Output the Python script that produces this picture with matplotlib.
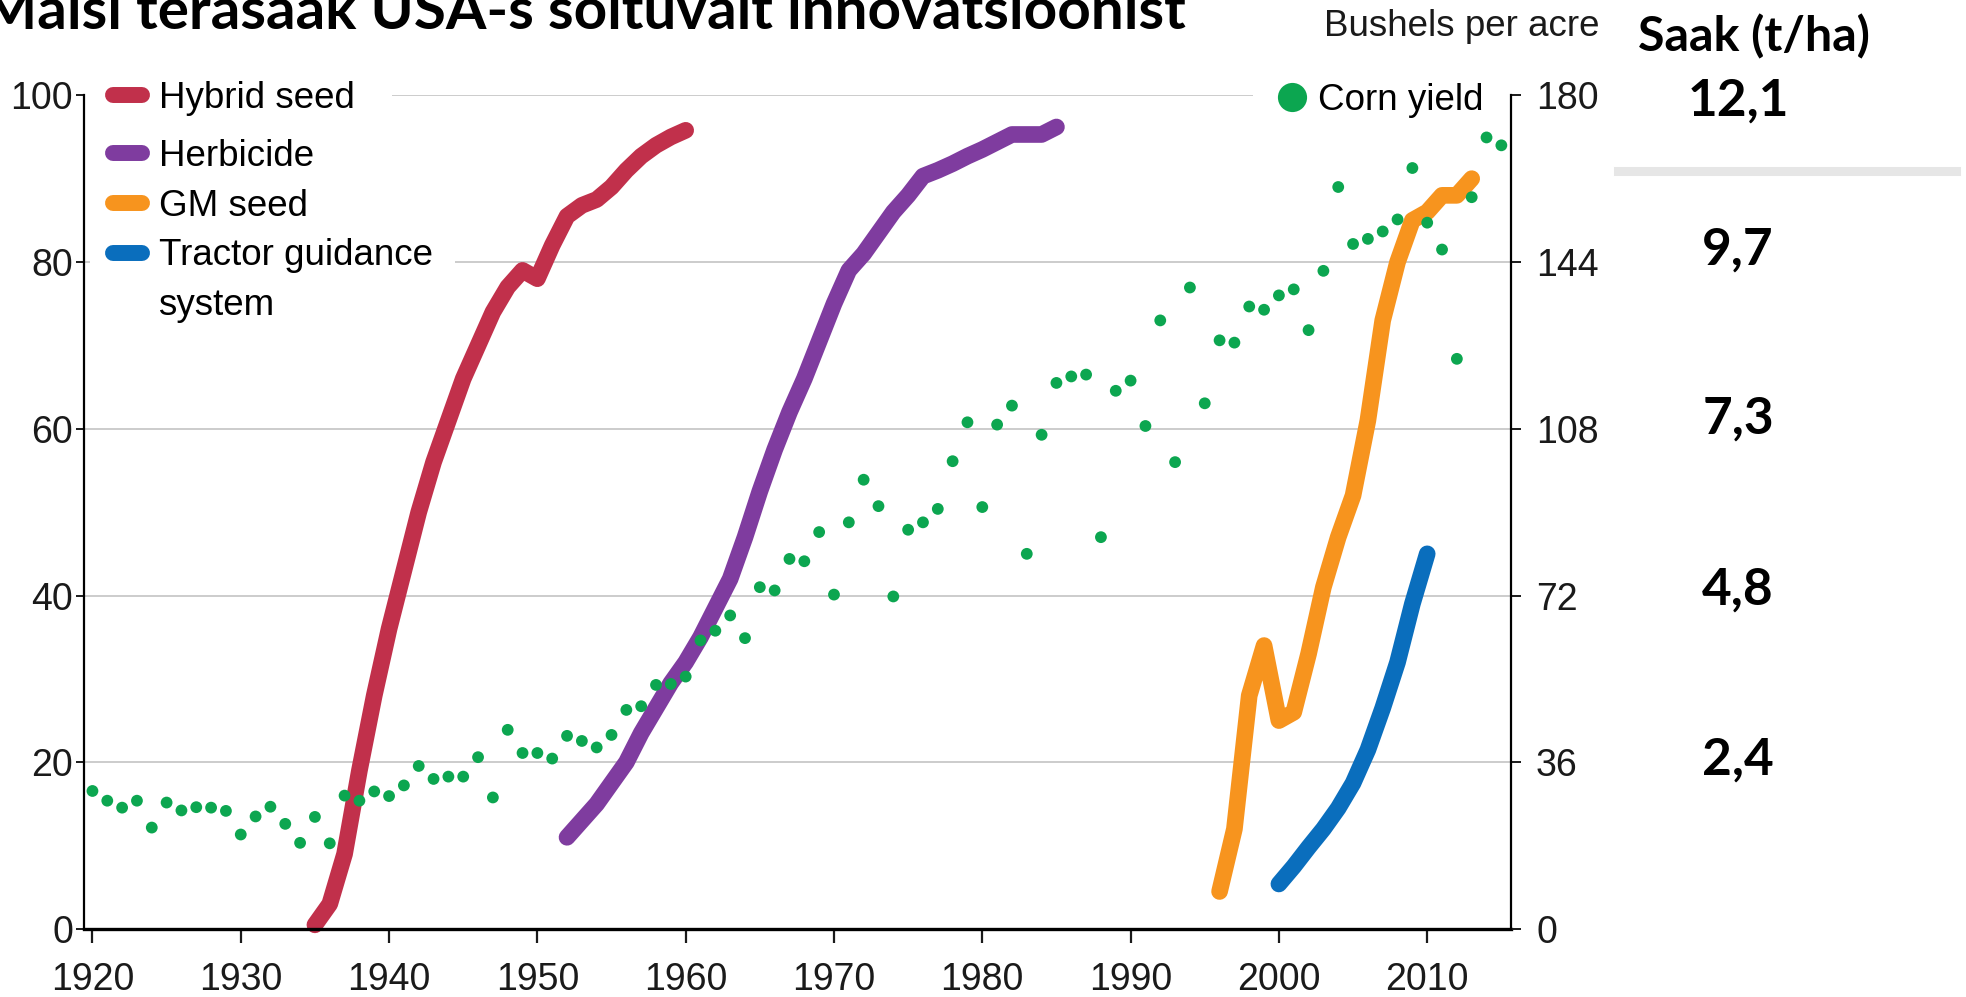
import matplotlib
matplotlib.use("Agg")
import matplotlib.pyplot as plt
import matplotlib.transforms as mtransforms
from matplotlib.lines import Line2D

plt.rcParams['font.family'] = ['Liberation Sans', 'DejaVu Sans']
plt.rcParams['font.size'] = 26.5

# --- data -------------------------------------------------------------
corn_years = list(range(1920, 2016))
corn_bu = [29.8, 27.7, 26.2, 27.7, 21.9, 27.3, 25.6, 26.3, 26.2, 25.5,
           20.4, 24.3, 26.4, 22.7, 18.6, 24.2, 18.5, 28.8, 27.7, 29.7,
           28.7, 31.0, 35.2, 32.4, 32.9, 32.9, 37.1, 28.4, 43.0, 38.0,
           38.0, 36.8, 41.7, 40.6, 39.2, 41.9, 47.3, 48.1, 52.7, 52.9,
           54.5, 62.3, 64.4, 67.7, 62.8, 73.8, 73.1, 79.9, 79.4, 85.7,
           72.2, 87.8, 97.0, 91.3, 71.8, 86.2, 87.8, 90.7, 101.0, 109.4,
           91.1, 108.9, 113.0, 81.0, 106.7, 117.9, 119.3, 119.7, 84.6, 116.2,
           118.4, 108.6, 131.4, 100.8, 138.5, 113.5, 127.1, 126.6, 134.4, 133.7,
           136.8, 138.1, 129.3, 142.1, 160.2, 147.9, 149.0, 150.6, 153.2, 164.3,
           152.5, 146.7, 123.1, 158.0, 170.9, 169.2]

hybrid_years = list(range(1935, 1961))
hybrid_pct = [0.5, 3, 9, 19, 28, 36, 43, 50, 56, 61, 66, 70, 74, 77, 79, 78,
              82, 85.5, 86.8, 87.5, 89, 91, 92.7, 94, 95, 95.8]

herb_years = list(range(1952, 1986))
herb_pct = [11, 13, 15, 17.5, 20, 23.5, 26.5, 29.5, 32, 35, 38.5, 42, 47, 52.5,
            57.5, 62, 66, 70.5, 75, 79, 81, 83.5, 86, 88, 90.3, 91, 91.8, 92.7,
            93.5, 94.4, 95.3, 95.3, 95.3, 96.2]

gm_years = list(range(1996, 2014))
gm_pct = [4.5, 12, 28, 34, 25, 26, 33, 41, 47, 52, 61, 73, 80, 85, 86, 88, 88, 90]

tractor_years = list(range(2000, 2011))
tractor_pct = [5.4, 7.5, 9.8, 12, 14.5, 17.5, 21.5, 26.5, 32, 39, 45]

left_ticks = [0, 20, 40, 60, 80, 100]
right_ticks = [0, 36, 72, 108, 144, 180]
x_ticks = [1920, 1930, 1940, 1950, 1960, 1970, 1980, 1990, 2000, 2010]
tha_vals = [180, 144, 108, 72, 36]
tha_labels = ['12,1', '9,7', '7,3', '4,8', '2,4']
tha_dy = [-6, 12, 10, 5, 2]  # small nudges (px) as placed in the original

c_hybrid = '#c1304b'
c_herb = '#7f3c9f'
c_gm = '#f7941e'
c_tractor = '#0a6ebd'
c_corn = '#0ca650'
c_grid = '#c8c8c8'

# --- figure -----------------------------------------------------------
W, H = 1966, 997
fig = plt.figure(figsize=(W / 100, H / 100), dpi=100)
ax = fig.add_axes([84 / W, 1 - 929 / H, (1511 - 84) / W, (929 - 95.3) / H])
ax2 = ax.twinx()

ax.set_xlim(1919.43, 2015.65)
ax.set_ylim(0, 100)
ax2.set_ylim(0, 180)

ax.set_axisbelow(True)
ax.yaxis.grid(True, color=c_grid, lw=1.3)
ax.set_yticks(left_ticks)
ax.set_xticks(x_ticks)
ax2.set_yticks(right_ticks)

lw = 12
for xs, ys, c in [(hybrid_years, hybrid_pct, c_hybrid),
                  (herb_years, herb_pct, c_herb),
                  (gm_years, gm_pct, c_gm),
                  (tractor_years, tractor_pct, c_tractor)]:
    ax.plot(xs, ys, color=c, lw=lw, solid_capstyle='round',
            solid_joinstyle='round', clip_on=False, zorder=3)

ax2.scatter(corn_years, corn_bu, s=72, color=c_corn, edgecolors='none', zorder=6)

# spines
for s in ['top', 'right']:
    ax.spines[s].set_visible(False)
for s in ['top', 'left', 'bottom']:
    ax2.spines[s].set_visible(False)
ax.spines['left'].set_linewidth(1.6)
ax.spines['bottom'].set_linewidth(2.4)
ax2.spines['right'].set_linewidth(1.6)
ax.spines['left'].set_zorder(10)
ax.spines['bottom'].set_zorder(10)
ax2.spines['right'].set_zorder(10)

ax.tick_params(axis='x', length=10, width=1.6, pad=14, labelsize=27, colors='#1a1a1a')
ax.tick_params(axis='y', length=6, width=1.4, pad=2, labelsize=27, colors='#1a1a1a')
ax2.tick_params(axis='y', length=7, width=1.4, pad=11, labelsize=27, colors='#1a1a1a')

# legends
def handle(c):
    return Line2D([], [], color=c, lw=11.5, solid_capstyle='round')

blank = Line2D([], [], color='none', lw=0)
common = dict(frameon=True, fancybox=False, framealpha=1, edgecolor='none',
              facecolor='white', handlelength=0.8, handletextpad=0.45,
              borderaxespad=0, loc='upper left', fontsize=26.5)

leg1 = ax.legend([handle(c_hybrid)], ['Hybrid seed'],
                 bbox_to_anchor=(-0.0056, 1.061), borderpad=1.0, **common)
leg1.get_frame().set_clip_box(ax.bbox)
ax.add_artist(leg1)

leg2 = ax.legend([handle(c_herb), handle(c_gm), handle(c_tractor), blank],
                 ['Herbicide', 'GM seed', 'Tractor guidance', 'system'],
                 bbox_to_anchor=(0.0045, 0.9741), borderpad=0.6,
                 labelspacing=0.4, **common)
# keep the white box of the lower entries below the 100 grid line
leg2.get_frame().set_clip_box(mtransforms.TransformedBbox(
    mtransforms.Bbox([[0, 0], [1, 1 - 22 / 834]]), ax.transAxes))

corn_h = Line2D([], [], color=c_corn, marker='o', markersize=21, lw=0,
                markeredgewidth=0)
leg3 = ax2.legend([corn_h], ['Corn yield'], loc='upper right',
                  bbox_to_anchor=(1.0, 1.048), borderaxespad=0, borderpad=0.75,
                  frameon=True, fancybox=False, framealpha=1, edgecolor='none',
                  facecolor='white', handlelength=0.6, handletextpad=0.4,
                  fontsize=26.5)
leg3.get_frame().set_clip_box(ax2.bbox)

# texts
fig.text(1599 / W, 1 - 26 / H, 'Bushels per acre', ha='right', va='center',
         fontsize=26.5, color='#1a1a1a')

bold = dict(family=['Lato', 'DejaVu Sans'], weight='bold', color='black')
fig.text(-18 / W, 1 - 29 / H, 'Maisi terasaak USA-s sõltuvalt innovatsioonist',
         ha='left', va='baseline', fontsize=42, **bold)
fig.text(1754 / W, 1 - 37 / H, 'Saak (t/ha)', ha='center', va='center',
         fontsize=34.8, **bold)

tr = mtransforms.blended_transform_factory(fig.transFigure, ax2.transData)
for v, lab, dy in zip(tha_vals, tha_labels, tha_dy):
    t = mtransforms.offset_copy(tr, fig=fig, x=0, y=dy, units='dots')
    fig.text(1738 / W, v, lab, transform=t, ha='center', va='center',
             fontsize=37, **bold)

fig.add_artist(Line2D([1618 / W, 1956 / W], [1 - 171 / H, 1 - 171 / H],
                      color='#e6e6e6', lw=6.5, transform=fig.transFigure))

fig.savefig('out.png', dpi=100)
